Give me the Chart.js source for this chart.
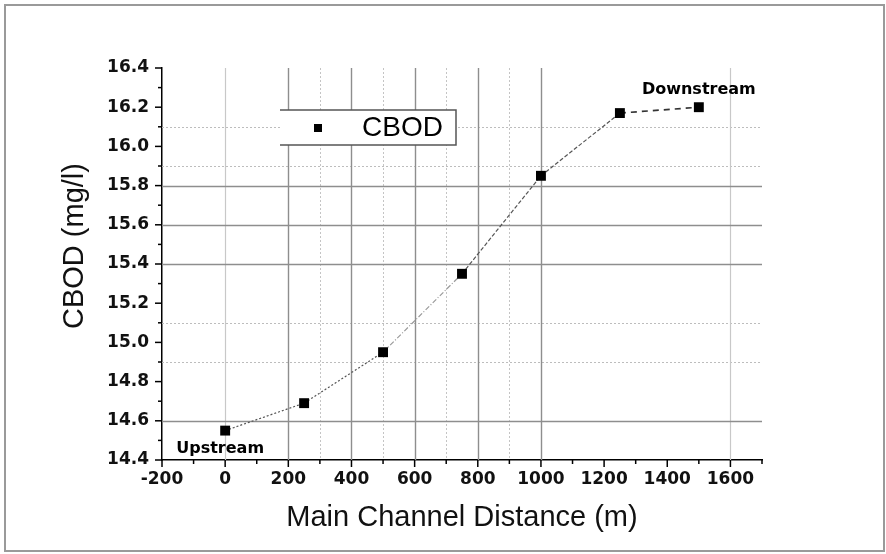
<!DOCTYPE html>
<html>
<head>
<meta charset="UTF-8">
<title>CBOD along the main channel</title>
<script src="https://cdn.jsdelivr.net/npm/chart.js"></script>
<style>
  body { margin: 0; background: #fff; }
  #wrap { position: relative; width: 886px; height: 554px; }
  #frame { position: absolute; left: 4px; top: 4px; width: 877px; height: 544px; border: 2px solid #9a9a9a; }
  #cbodChart { position: absolute; left: 0; top: 0; }
</style>
</head>
<body>
<div id="wrap">
  <div id="frame"></div>
  <canvas id="cbodChart" width="886" height="554"></canvas>
</div>
<script>
// measured CBOD along the channel
var distance = [0, 250, 500, 750, 1000, 1250, 1500];
var cbod = [14.55, 14.69, 14.95, 15.35, 15.85, 16.17, 16.2];
var seriesName = 'CBOD';
var startLabel = 'Upstream';
var endLabel = 'Downstream';
var xTitle = 'Main Channel Distance (m)';
var yTitle = 'CBOD (mg/l)';

// axis ranges
var xMin = -200, xMax = 1700, xStep = 100, xLabelEvery = 200;
var yMin = 14.4, yMax = 16.4, yStep = 0.1;

// grid lines that are drawn in the plot
var xGridSolid = [200, 400, 600, 800, 1000];
var xGridLight = [0, 1600];
var xGridDotted = [300, 500, 700, 900];
var yGridSolid = [15.8, 15.6, 15.4, 14.6];
var yGridDotted = [16.1, 15.9, 15.1, 14.9];

var points = distance.map(function (d, i) { return { x: d, y: cbod[i] }; });

var tickFont = { family: '"DejaVu Sans", sans-serif', size: 17, weight: 'bold' };
var titleFont = { family: '"Liberation Sans", Arial, sans-serif', size: 29, weight: 'normal' };

// grid, minor/major tick marks, legend box, y title and the end labels
var plotDecor = {
    id: 'plotDecor',
    beforeDatasetsDraw: function (chart) {
        var ctx = chart.ctx, a = chart.chartArea;
        var xs = chart.scales.x, ys = chart.scales.y;
        ctx.save();
        function vline(v, color, width, dash) {
            var px = Math.round(xs.getPixelForValue(v)) + 0.5;
            ctx.beginPath();
            ctx.strokeStyle = color; ctx.lineWidth = width; ctx.setLineDash(dash);
            ctx.moveTo(px, a.top); ctx.lineTo(px, a.bottom); ctx.stroke();
        }
        function hline(v, color, width, dash) {
            var py = Math.round(ys.getPixelForValue(v)) + 0.5;
            ctx.beginPath();
            ctx.strokeStyle = color; ctx.lineWidth = width; ctx.setLineDash(dash);
            ctx.moveTo(a.left, py); ctx.lineTo(a.right, py); ctx.stroke();
        }
        xGridDotted.forEach(function (v) { vline(v, '#c4c4c4', 1, [2, 2]); });
        yGridDotted.forEach(function (v) { hline(v, '#bdbdbd', 1, [2, 2]); });
        xGridLight.forEach(function (v) { vline(v, '#c8c8c8', 1.2, []); });
        xGridSolid.forEach(function (v) { vline(v, '#8e8e8e', 1.4, []); });
        yGridSolid.forEach(function (v) { hline(v, '#8e8e8e', 1.4, []); });
        ctx.restore();
    },
    afterDraw: function (chart) {
        var ctx = chart.ctx, a = chart.chartArea;
        var xs = chart.scales.x, ys = chart.scales.y;
        ctx.save();
        ctx.strokeStyle = '#000';
        ctx.lineWidth = 1.5;
        ctx.setLineDash([]);

        // tick marks: long on labelled values, short in between
        xs.ticks.forEach(function (t) {
            var px = xs.getPixelForValue(t.value);
            var len = (Math.round(t.value) % xLabelEvery === 0) ? 7 : 4;
            ctx.beginPath(); ctx.moveTo(px, a.bottom); ctx.lineTo(px, a.bottom + len); ctx.stroke();
        });
        ys.ticks.forEach(function (t) {
            var py = ys.getPixelForValue(t.value);
            var len = (Math.round(t.value * 10) % 2 === 0) ? 7 : 4;
            ctx.beginPath(); ctx.moveTo(a.left, py); ctx.lineTo(a.left - len, py); ctx.stroke();
        });

        // y axis title, sitting a little above the axis middle
        ctx.save();
        ctx.translate(75, (a.top + a.bottom) / 2 - 18);
        ctx.rotate(-Math.PI / 2);
        ctx.fillStyle = '#111';
        ctx.font = titleFont.size + 'px ' + titleFont.family;
        ctx.textAlign = 'center';
        ctx.textBaseline = 'middle';
        ctx.fillText(yTitle, 0, 0);
        ctx.restore();

        // legend box (open on the left side)
        var bx = a.left + 118, by = a.top + 42, bw = 176, bh = 35;
        ctx.fillStyle = '#fff';
        ctx.fillRect(bx, by, bw, bh);
        ctx.strokeStyle = '#555';
        ctx.lineWidth = 1.5;
        ctx.beginPath();
        ctx.moveTo(bx, by); ctx.lineTo(bx + bw, by); ctx.lineTo(bx + bw, by + bh); ctx.lineTo(bx, by + bh);
        ctx.stroke();
        ctx.fillStyle = '#000';
        ctx.fillRect(bx + 34, by + 14, 8, 8);
        ctx.font = '28px "Liberation Sans", Arial, sans-serif';
        ctx.textBaseline = 'middle';
        ctx.textAlign = 'left';
        ctx.fillText(chart.data.datasets[0].label, bx + 82, by + bh / 2 + 1);

        // end labels next to first and last points
        var meta = chart.getDatasetMeta(0).data;
        var first = meta[0], last = meta[meta.length - 1];
        ctx.font = 'bold 16px "DejaVu Sans", sans-serif';
        ctx.textAlign = 'center';
        ctx.textBaseline = 'alphabetic';
        ctx.fillText(startLabel, first.x - 5, first.y + 22);
        ctx.fillText(endLabel, last.x, last.y - 13);
        ctx.restore();
    }
};

function segDash(ctx) {
    var i = ctx.p0DataIndex;
    if (i <= 1) return [2, 2];
    if (i === 2) return [5, 2, 1, 2];
    if (i <= 4) return [4, 2];
    return [6, 5];
}
function segColor(ctx) {
    var i = ctx.p0DataIndex;
    if (i === 2) return '#9a9a9a';
    if (i === 5) return '#333';
    return '#555';
}
function segWidth(ctx) {
    return ctx.p0DataIndex === 5 ? 1.7 : 1.2;
}

var chart = new Chart(document.getElementById('cbodChart').getContext('2d'), {
    type: 'line',
    data: {
        datasets: [{
            label: seriesName,
            data: points,
            borderColor: '#555',
            borderWidth: 1.2,
            tension: 0,
            pointStyle: 'rect',
            pointRadius: 7,
            pointBackgroundColor: '#000',
            pointBorderColor: '#000',
            pointBorderWidth: 0,
            segment: { borderDash: segDash, borderColor: segColor, borderWidth: segWidth }
        }]
    },
    options: {
        responsive: false,
        animation: false,
        layout: { padding: { left: 0, top: 68, right: 124, bottom: 0 } },
        plugins: { legend: { display: false }, tooltip: { enabled: false } },
        scales: {
            x: {
                type: 'linear',
                min: xMin,
                max: xMax,
                afterFit: function (s) { s.height = 94; },
                ticks: {
                    stepSize: xStep,
                    autoSkip: false,
                    maxRotation: 0,
                    padding: 2,
                    color: '#111',
                    font: tickFont,
                    callback: function (v) { return Math.round(v) % xLabelEvery === 0 ? String(v) : ''; }
                },
                grid: { display: true, drawOnChartArea: false, tickLength: 7, tickColor: 'transparent' },
                border: { display: true, color: '#000', width: 1.5 },
                title: { display: true, text: xTitle, color: '#111', font: titleFont, padding: { top: 0, bottom: 19 } }
            },
            y: {
                type: 'linear',
                min: yMin,
                max: yMax,
                afterFit: function (s) { s.width = 162; },
                ticks: {
                    stepSize: yStep,
                    autoSkip: false,
                    padding: 6,
                    color: '#111',
                    font: tickFont,
                    callback: function (v) { return Math.round(v * 10) % 2 === 0 ? v.toFixed(1) : ''; }
                },
                grid: { display: true, drawOnChartArea: false, tickLength: 7, tickColor: 'transparent' },
                border: { display: true, color: '#000', width: 1.5 }
            }
        }
    },
    plugins: [plotDecor]
});
</script>
</body>
</html>
